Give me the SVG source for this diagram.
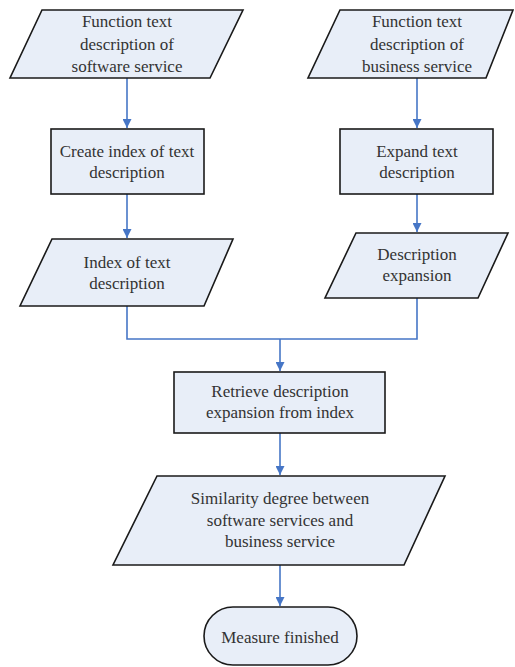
<svg xmlns="http://www.w3.org/2000/svg" width="515" height="667" viewBox="0 0 515 667">
<style>
.shape{fill:#E8EEF8;stroke:#1a1a1a;stroke-width:1.6}
.t{font-family:'Liberation Serif','Times New Roman','DejaVu Serif',serif;font-size:17px;fill:#333;text-anchor:middle}
.c{fill:none;stroke:#4676C6;stroke-width:1.6}
</style>
<defs>
<marker id="ah" viewBox="0 0 10 10" refX="10" refY="5" markerUnits="userSpaceOnUse" markerWidth="9" markerHeight="9" orient="auto">
<path d="M0,0 L10,5 L0,10 z" fill="#4676C6"/>
</marker>
</defs>
<rect width="515" height="667" fill="#fff"/>
<g id="connectors">
<path class="c" d="M127,78 V128" marker-end="url(#ah)"/>
<path class="c" d="M417,78 V128" marker-end="url(#ah)"/>
<path class="c" d="M127,194 V238" marker-end="url(#ah)"/>
<path class="c" d="M417,194 V232" marker-end="url(#ah)"/>
<path class="c" d="M127,306 V339 H417 V298"/>
<path class="c" d="M280,339 V371" marker-end="url(#ah)"/>
<path class="c" d="M280,433 V475" marker-end="url(#ah)"/>
<path class="c" d="M280,565 V606" marker-end="url(#ah)"/>
</g>
<g id="n1">
<polygon class="shape" points="42,10 243,10 210,78 10,78"/>
<text class="t" x="127" y="27">Function text</text>
<text class="t" x="127" y="50">description of</text>
<text class="t" x="127" y="72">software service</text>
</g>
<g id="n2">
<polygon class="shape" points="340,10 513,10 486,78 308,78"/>
<text class="t" x="417" y="27">Function text</text>
<text class="t" x="417" y="50">description of</text>
<text class="t" x="417" y="72">business service</text>
</g>
<g id="n3">
<rect class="shape" x="51" y="129" width="153" height="65"/>
<text class="t" x="127" y="157">Create index of text</text>
<text class="t" x="127" y="178">description</text>
</g>
<g id="n4">
<rect class="shape" x="340" y="129" width="153" height="65"/>
<text class="t" x="417" y="157">Expand text</text>
<text class="t" x="417" y="178">description</text>
</g>
<g id="n5">
<polygon class="shape" points="52,239 233,239 204,306 20,306"/>
<text class="t" x="127" y="268">Index of text</text>
<text class="t" x="127" y="289">description</text>
</g>
<g id="n6">
<polygon class="shape" points="356,233 508,233 478,298 325,298"/>
<text class="t" x="417" y="260">Description</text>
<text class="t" x="417" y="281">expansion</text>
</g>
<g id="n7">
<rect class="shape" x="174" y="372" width="211" height="61"/>
<text class="t" x="280" y="397">Retrieve description</text>
<text class="t" x="280" y="418">expansion from index</text>
</g>
<g id="n8">
<polygon class="shape" points="157,476 445,476 404,565 113,565"/>
<text class="t" x="280" y="504">Similarity degree between</text>
<text class="t" x="280" y="526">software services and</text>
<text class="t" x="280" y="547">business service</text>
</g>
<g id="n9">
<rect class="shape" x="204" y="607" width="153" height="58" rx="29" ry="29"/>
<text class="t" x="280" y="643">Measure finished</text>
</g>
</svg>
